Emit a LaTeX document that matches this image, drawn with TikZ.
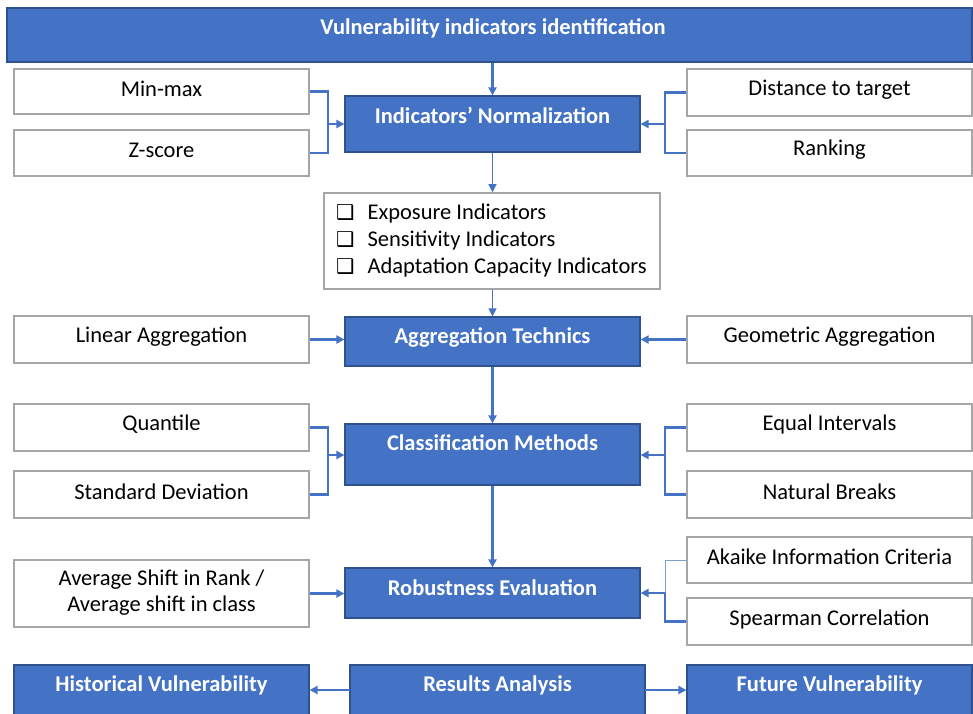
\documentclass[tikz,border=0pt]{standalone}
\usepackage{fontspec}
\setmainfont{Carlito}
\newfontfamily\dejavu{DejaVu Sans}
\usetikzlibrary{arrows.meta}
\definecolor{bfill}{HTML}{4472C4}
\definecolor{bdraw}{HTML}{2F528F}
\definecolor{gbord}{HTML}{A6A6A6}
\tikzset{
  bluebox/.style={draw=bdraw, fill=bfill, line width=1.2pt, inner sep=0pt},
  whitebox/.style={draw=gbord, fill=white, line width=1.6pt, inner sep=0pt},
  btext/.style={text=white, font=\fontsize{22.5}{26}\selectfont\bfseries, inner sep=0pt},
  wtext/.style={text=black, font=\fontsize{22.5}{26}\selectfont, inner sep=0pt, align=center},
  conn/.style={draw=bfill, line width=2.2pt},
  arr/.style={conn, -{Triangle[length=8pt,width=8pt]}},
}
\newcommand{\bx}[7]{% style, name, x1, y1, x2, y2, unused
  \node[#1, minimum width={(#5-#3)*1pt}, minimum height={(#6-#4)*1pt}] (#2) at ({(#3+#5)/2},{(#4+#6)/2}) {};}
\newcommand{\cbx}{{\dejavu\fontsize{20.5}{20}\selectfont ❑}}
\begin{document}
\begin{tikzpicture}[x=1pt, y=-1pt]
\useasboundingbox (0,0) rectangle (973,713);
\clip (0,0) rectangle (973,713);
% boxes
\bx{bluebox}{top}{7}{8}{972}{62}{}
\node[btext] (topt) at (493,28) {Vulnerability indicators identification};
\bx{whitebox}{minmax}{14}{69}{309}{114}{}
\node[wtext] (minmaxt) at (161.5,89) {Min-max};
\bx{whitebox}{zscore}{14}{130}{309}{176}{}
\node[wtext] (zscoret) at (161.5,150) {Z-score};
\bx{bluebox}{norm}{345}{96}{640}{152}{}
\node[btext] (normt) at (492.5,115) {Indicators’ Normalization};
\bx{whitebox}{dist}{687}{69}{972}{116}{}
\node[wtext] (distt) at (829.5,90) {Distance to target};
\bx{whitebox}{rank}{687}{130}{972}{176}{}
\node[wtext] (rankt) at (829.5,150) {Ranking};
\bx{whitebox}{list}{324}{193}{660}{289}{}
\node[wtext, anchor=west, align=left, font=\fontsize{22.5}{27}\selectfont] (listt) at (336,240)
  {\cbx\hspace{13pt}Exposure Indicators\\
   \cbx\hspace{13pt}Sensitivity Indicators\\
   \cbx\hspace{13pt}Adaptation Capacity Indicators};
\bx{bluebox}{agg}{345}{317}{640}{366}{}
\node[btext] (aggt) at (492.5,337) {Aggregation Technics};
\bx{whitebox}{lin}{14}{316}{309}{363}{}
\node[wtext] (lint) at (161.5,337) {Linear Aggregation};
\bx{whitebox}{geo}{687}{316}{972}{363}{}
\node[wtext] (geot) at (829.5,337) {Geometric Aggregation};
\bx{bluebox}{cls}{345}{424}{640}{485}{}
\node[btext] (clst) at (492.5,443) {Classification Methods};
\bx{whitebox}{quant}{14}{404}{309}{451}{}
\node[wtext] (quantt) at (161.5,424) {Quantile};
\bx{whitebox}{std}{14}{471}{309}{518}{}
\node[wtext] (stdt) at (161.5,492) {Standard Deviation};
\bx{whitebox}{equal}{687}{404}{972}{451}{}
\node[wtext] (equalt) at (829.5,424) {Equal Intervals};
\bx{whitebox}{natural}{687}{471}{972}{518}{}
\node[wtext] (naturalt) at (829.5,492) {Natural Breaks};
\bx{bluebox}{rob}{345}{568}{640}{618}{}
\node[btext] (robt) at (492.5,588) {Robustness Evaluation};
\bx{whitebox}{avg}{14}{560}{309}{627}{}
\node[wtext] (avgt) at (161.5,593) {Average Shift in Rank /\\Average shift in class};
\bx{whitebox}{aka}{687}{537}{972}{583}{}
\node[wtext] (akat) at (829.5,557) {Akaike Information Criteria};
\bx{whitebox}{spe}{687}{598}{972}{645}{}
\node[wtext] (spet) at (829.5,619) {Spearman Correlation};
\bx{bluebox}{hist}{14}{665}{309}{725}{}
\node[btext] (histt) at (161.5,685) {Historical Vulnerability};
\bx{bluebox}{res}{350}{665}{645}{725}{}
\node[btext] (rest) at (497.5,685) {Results Analysis};
\bx{bluebox}{fut}{687}{665}{972}{725}{}
\node[btext] (futt) at (829.5,685) {Future Vulnerability};
% junctions
\coordinate (jn1) at (328,124);
\coordinate (jn2) at (665,124);
\coordinate (jc1) at (328,455);
\coordinate (jc2) at (665,455);
\coordinate (jr2) at (665,593);
% vertical flow
\draw[arr] (top.south -| norm.north) -- (norm.north);
\draw[arr, line width=1.3pt] (norm.south) -- (list.north -| norm.south);
\draw[arr, line width=1.3pt] (list.south -| agg.north) -- (agg.north);
\draw[arr] (agg.south) -- (cls.north);
\draw[arr] (cls.south) -- (rob.north);
% normalization brackets
\draw[conn] (minmax.east) -| (jn1);
\draw[conn] (zscore.east) -| (jn1);
\draw[arr] (jn1) -- (norm.west);
\draw[conn] (dist.west) -| (jn2);
\draw[conn] (rank.west) -| (jn2);
\draw[arr] (jn2) -- (norm.east);
% aggregation
\draw[arr] (lin.east) -- (lin.east -| agg.west);
\draw[arr] (geo.west) -- (geo.west -| agg.east);
% classification brackets
\draw[conn] (quant.east) -| (jc1);
\draw[conn] (std.east) -| (jc1);
\draw[arr] (jc1) -- (jc1 -| cls.west);
\draw[conn] (equal.west) -| (jc2);
\draw[conn] (natural.west) -| (jc2);
\draw[arr] (jc2) -- (jc2 -| cls.east);
% robustness
\draw[arr] (avg.east) -- (avg.east -| rob.west);
\draw[conn, line width=1pt, draw=bfill!70] (aka.west) -| (jr2);
\draw[conn] (spe.west) -| (jr2);
\draw[arr] (jr2) -- (rob.east);
% results
\coordinate (rl) at (350,690);
\coordinate (rr) at (645,690);
\draw[arr] (rl) -- (rl -| hist.east);
\draw[arr] (rr) -- (rr -| fut.west);
\end{tikzpicture}
\end{document}
